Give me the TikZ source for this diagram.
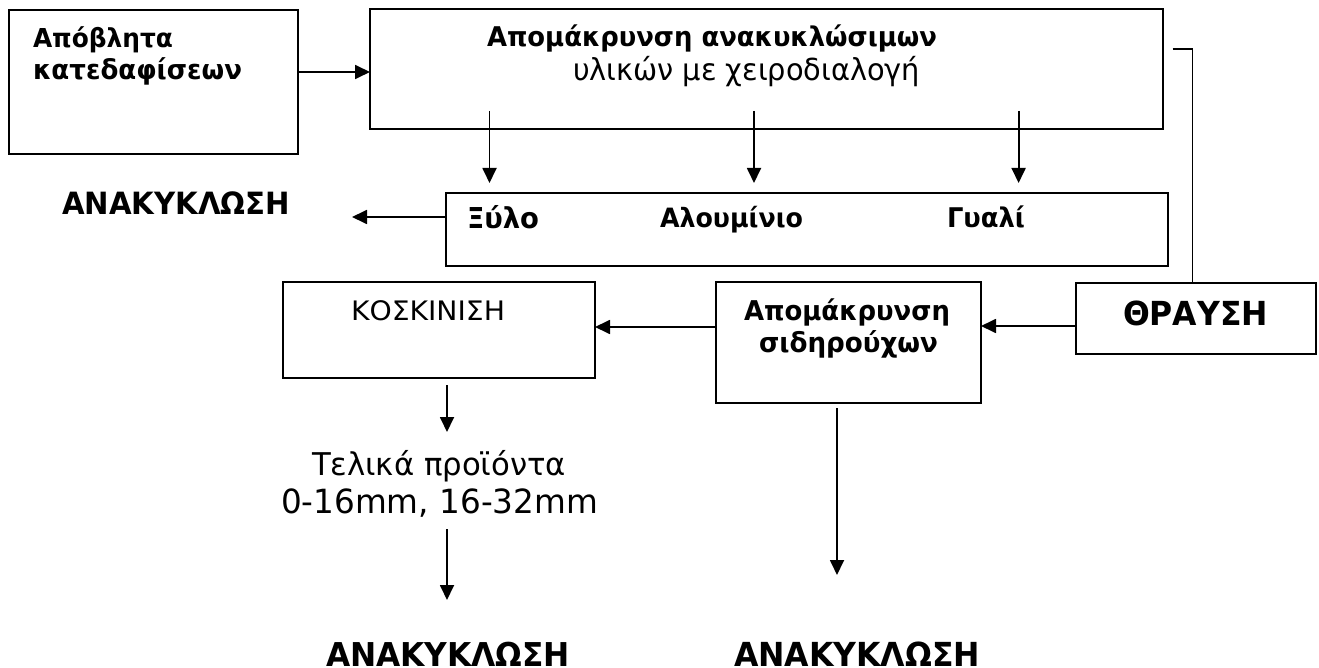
\documentclass[tikz,border=0pt]{standalone}
\usepackage{fontspec}
\usepackage{graphicx}
\setmainfont{DejaVu Sans}
\usetikzlibrary{arrows.meta}
% #1 target width, #2 vertical stretch, #3 text
\newcommand{\fitw}[3]{\resizebox{#1}{!}{\scalebox{1}[#2]{#3}}}
\begin{document}
\begin{tikzpicture}[x=1pt,y=-1pt,
  box/.style={draw, line width=2pt, inner sep=0pt, outer sep=0pt, anchor=north west},
  lbl/.style={inner sep=0pt, outer sep=0pt, anchor=base west},
  arr/.style={line width=1.8pt, -{Triangle[length=15pt,width=14pt]}},
  ln/.style={line width=1.8pt}]
\useasboundingbox (0,0) rectangle (1319,668);
% boxes
\node[box, minimum width=289pt, minimum height=144pt] (b1) at (9,10) {};
\node[box, minimum width=793pt, minimum height=120pt] (b2) at (370,9) {};
\node[box, minimum width=722pt, minimum height=73pt] (b3) at (446,193) {};
\node[box, minimum width=312pt, minimum height=96pt] (kos) at (283,282) {};
\node[box, minimum width=265pt, minimum height=121pt] (sid) at (716,282) {};
\node[box, minimum width=240pt, minimum height=71pt] (thr) at (1076,283) {};
% texts
\node[lbl] (t1a) at (33,48) {\fitw{140pt}{1.05}{\bfseries Απόβλητα}};
\node[lbl] (t1b) at (33,80) {\fitw{209pt}{1.05}{\bfseries κατεδαφίσεων}};
\node[lbl] (t2a) at (487,47) {\fitw{450pt}{1.05}{\bfseries Απομάκρυνση ανακυκλώσιμων}};
\node[lbl] (t2b) at (573,81) {\fitw{347pt}{1.05}{υλικών με χειροδιαλογή}};
\node[lbl] (rec1) at (62,215) {\fitw{228pt}{1.05}{\bfseries ΑΝΑΚΥΚΛΩΣΗ}};
\node[lbl] (wood) at (467,229) {\fitw{72pt}{1.05}{\bfseries Ξύλο}};
\node[lbl] (alu) at (660,228) {\fitw{143pt}{1.05}{\bfseries Αλουμίνιο}};
\node[lbl] (glass) at (947,228) {\fitw{78pt}{1.05}{\bfseries Γυαλί}};
\node[lbl] (tkos) at (351,320) {\fitw{154pt}{0.95}{ΚΟΣΚΙΝΙΣΗ}};
\node[lbl] (tsa) at (744,320) {\fitw{206pt}{1.05}{\bfseries Απομάκρυνση}};
\node[lbl] (tsb) at (759,352) {\fitw{179pt}{1.05}{\bfseries σιδηρούχων}};
\node[lbl] (tthr) at (1123,325) {\fitw{145pt}{1.05}{\bfseries ΘΡΑΥΣΗ}};
\node[lbl] (fin1) at (312,475) {\fitw{254pt}{1.02}{Τελικά προϊόντα}};
\node[lbl] (fin2) at (281,513) {\fitw{317pt}{1.02}{0-16mm, 16-32mm}};
\node[lbl] (rec2) at (326,666) {\fitw{244pt}{1.05}{\bfseries ΑΝΑΚΥΚΛΩΣΗ}};
\node[lbl] (rec3) at (734,666) {\fitw{246pt}{1.05}{\bfseries ΑΝΑΚΥΚΛΩΣΗ}};
% connector coordinates
\coordinate (s1) at (489.5,111); \coordinate (e1) at (489.5,183);
\coordinate (s2) at (754,111); \coordinate (e2) at (754,183);
\coordinate (s3) at (1018.6,111); \coordinate (e3) at (1018.6,183);
\coordinate (e4) at (352,217);
\coordinate (k1) at (1172.6,49); \coordinate (k2) at (1192.4,49);
\coordinate (ks) at (447,385); \coordinate (ke) at (447,432);
\coordinate (fs) at (447,529); \coordinate (fe) at (447,600);
\coordinate (ss) at (837,408); \coordinate (se) at (837,575);
% connectors
\draw[arr] (b1.east |- 0,72) -- (b2.west |- 0,72);
\draw[arr] (s1) -- (e1);
\draw[arr] (s2) -- (e2);
\draw[arr] (s3) -- (e3);
\draw[arr] (b3.west |- 0,217) -- (e4);
\draw[ln] (k1) -- (k2) -- (k2 |- thr.north);
\draw[arr] (thr.west |- 0,326) -- (sid.east |- 0,326);
\draw[arr] (sid.west |- 0,327) -- (kos.east |- 0,327);
\draw[arr] (ks) -- (ke);
\draw[arr] (fs) -- (fe);
\draw[arr] (ss) -- (se);
\end{tikzpicture}
\end{document}
